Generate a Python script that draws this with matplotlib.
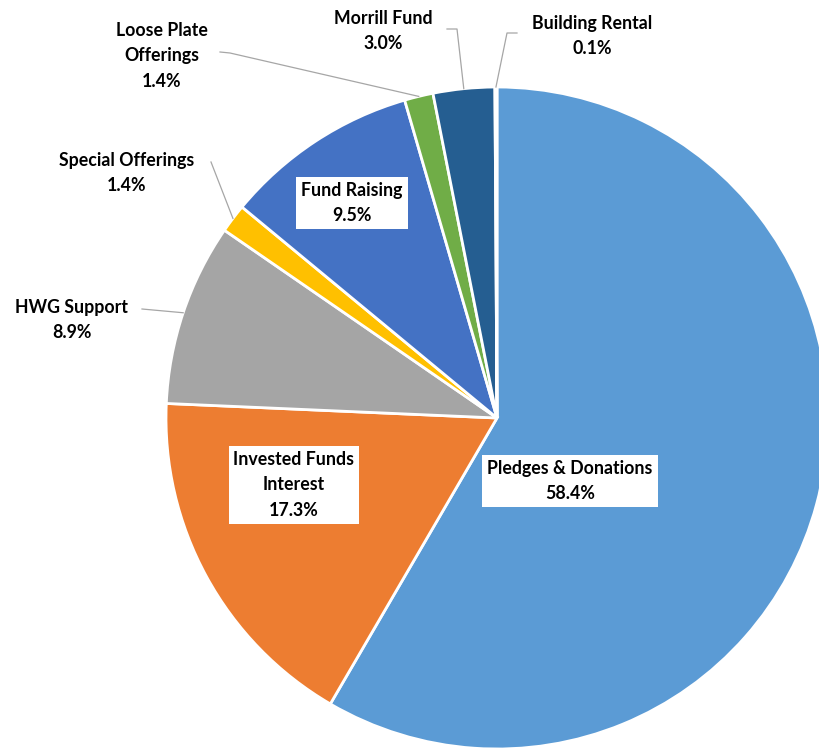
import numpy as np
import matplotlib
matplotlib.use("Agg")
import matplotlib.pyplot as plt

categories = ["Pledges & Donations", "Invested Funds\nInterest", "HWG Support",
              "Special Offerings", "Fund Raising", "Loose Plate\nOfferings",
              "Morrill Fund", "Building Rental"]
values = [58.4, 17.3, 8.9, 1.4, 9.5, 1.4, 3.0, 0.1]
colors = ["#5B9BD5", "#ED7D31", "#A5A5A5", "#FFC000", "#4472C4", "#70AD47",
          "#255E91", "#9E480E"]

W, H = 820, 750
fig = plt.figure(figsize=(W / 100, H / 100), dpi=100)
ax = fig.add_axes([0, 0, 1, 1])

cx, cy, R = 497, H - 418, 331
wedges, _ = ax.pie(values, colors=colors, startangle=90, counterclock=False,
                   center=(cx, cy), radius=R, frame=True,
                   wedgeprops=dict(edgecolor="white", linewidth=2))
ax.set_xlim(0, W)
ax.set_ylim(0, H)
ax.set_aspect("equal")
ax.axis("off")

FONT = "Lato"
FS = 12.8
txt_kw = dict(fontsize=FS, fontweight="bold", family=FONT, color="black",
              ha="center", va="center", linespacing=1.62)

def Y(p):
    return H - p

def lbl(i):
    return f"{categories[i]}\n{values[i]:.1f}%"

# inside labels with white boxes: (index, x, y_pixel)
inside = [(0, 570, 481), (1, 294, 485), (4, 352, 203)]
for i, x, y in inside:
    ax.text(x, Y(y), lbl(i), bbox=dict(boxstyle="square,pad=0.28", fc="white",
                                         ec="none"), zorder=5, **txt_kw)

# outside labels: (index, text x, text y, leader path start points)
outside = [
    (2, 72, 320, [(142, 309)]),
    (3, 127, 173, [(211, 162)]),
    (5, 162, 56, [(220, 52), (230, 53)]),
    (6, 383, 31, [(447, 29), (457, 29)]),
    (7, 592, 36, [(517, 33), (507, 33)]),
]
for i, x, y, pts in outside:
    ax.text(x, Y(y), lbl(i), zorder=5, **txt_kw)
    w = wedges[i]
    mid = np.deg2rad((w.theta1 + w.theta2) / 2)
    ex, ey = cx + R * np.cos(mid), cy + R * np.sin(mid)
    xs = [p[0] for p in pts] + [ex]
    ys = [Y(p[1]) for p in pts] + [ey]
    ax.plot(xs, ys, color="#A6A6A6", lw=0.9, zorder=4)

fig.savefig("out.png", dpi=100, facecolor="white")
